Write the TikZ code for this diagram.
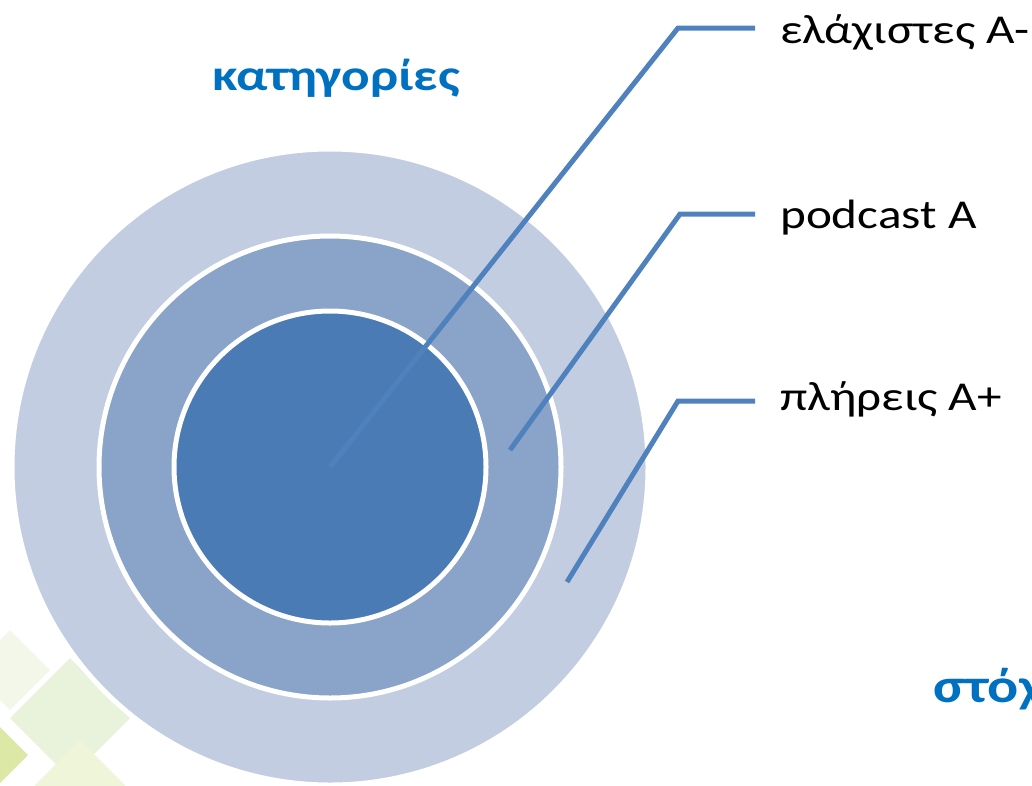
\documentclass[tikz,border=0pt]{standalone}
\usepackage{fontspec}
\setmainfont{Carlito}
\newfontfamily\labfont[FakeStretch=1.2]{Carlito}
\newfontfamily\headfont[FakeStretch=1.21]{Carlito}
\usepackage{tikz}
\usetikzlibrary{calc}
\definecolor{ringout}{HTML}{C3CDE2}
\definecolor{ringmid}{HTML}{8AA3C9}
\definecolor{ringin}{HTML}{4A7BB4}
\definecolor{leadblue}{HTML}{4F81BD}
\definecolor{headblue}{HTML}{0070C0}
\definecolor{paleA}{HTML}{E9F2DA}
\definecolor{paleB}{HTML}{DCE8A6}
\definecolor{paleC}{HTML}{EEF5D8}
\definecolor{paleD}{HTML}{F3F7EA}
\tikzset{ring/.style={circle, draw=white, line width=5pt, inner sep=0pt},
	leader/.style={line width=5pt, color=leadblue},
	lab/.style={anchor=base west, inner sep=0pt, font=\labfont\fontsize{41}{49}\selectfont},
	head/.style={anchor=base west, inner sep=0pt, text=headblue, font=\headfont\bfseries\fontsize{44}{52}\selectfont},
	leaf/.style={fill=#1, draw=none}}

\begin{document}
\begin{tikzpicture}[x=1pt, y=-1pt]
		\useasboundingbox (0,0) rectangle (1032,785);
		% pale squares behind, bottom left
		\fill[leaf=paleD] (10,630) --++(40,40) --++(-40,40) --++(-40,-40) --cycle;
		\fill[leaf=paleA] (70,658) --++(60,60) --++(-60,60) --++(-60,-60) --cycle;
		\fill[leaf=paleC] (80,740) --++(45,45) --++(-45,45) --++(-45,-45) --cycle;
		\fill[leaf=paleB] (-5,722) --++(33,33) --++(-33,33) --++(-33,-33) --cycle;
		
		\node[ring, fill=ringout, minimum size=636pt] (outer) at (330,467) {};
		\node[ring, fill=ringmid, minimum size=462pt] (middle) at (330,467) {};
		\node[ring, fill=ringin, minimum size=312pt] (inner) at (330,467) {};
		\coordinate (tip2) at (510,450);
		\coordinate (tip3) at (567,582);
		
		\node[lab] (lab1) at (780,43) {ελάχιστες A-};
		\node[lab] (lab2) at (780,228) {podcast A};
		\node[lab] (lab3) at (780,410) {πλήρεις A+};
		
		\draw[leader] (inner.center) -- (678,28) -- ([xshift=-25pt,yshift=15pt]lab1.base west);
		\draw[leader] (tip2) -- (680,214) -- ([xshift=-25pt,yshift=14pt]lab2.base west);
		\draw[leader] (tip3) -- (678,401) -- ([xshift=-25pt,yshift=9pt]lab3.base west);
		
		\node[head] (cat) at (212,90) {κατηγορίες};
		\node[head, font=\headfont\bfseries\fontsize{48}{56}\selectfont] (goal) at (933,702) {στόχ};
	\end{tikzpicture}
\end{document}
